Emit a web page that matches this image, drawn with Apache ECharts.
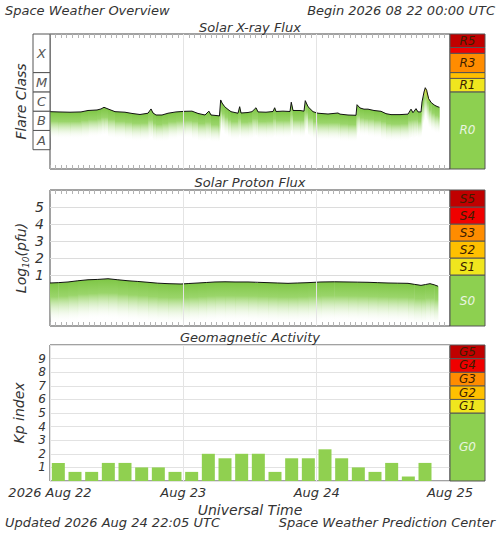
<!DOCTYPE html>
<html><head><meta charset="utf-8">
<script src="https://cdn.jsdelivr.net/npm/echarts@6/dist/echarts.min.js"></script>
<style>html,body{margin:0;padding:0;background:#fff}#c{width:500px;height:533px}</style>
</head><body><div id="c"></div><script>
const FONT = 'DejaVu Sans';
const TXT = '#333';

// ---- Solar X-ray flux (hours since 2026-08-22 00:00 UTC, W/m^2)
const xrayHours = [0,1.44,3.6,5.58,6.84,8.46,9.18,9.72,10.44,11.7,13.5,14.76,16.2,17.64,18.18,18.54,19.08,20.16,21.24,22.68,
  24.3,25.56,26.64,27.9,28.6,28.98,30.24,30.5,30.72,30.96,31.44,32.04,32.58,33.84,34.14,34.38,35.64,36.36,37.08,37.44,
  38.88,40.14,40.44,40.68,41.94,43.2,43.43,43.74,45,45.72,45.95,46.44,47.34,48.24,50.04,51.84,52.2,53.64,55.08,55.26,
  55.8,56.52,57.24,58.32,59.58,60.48,61.38,63,64.44,64.98,65.34,65.88,66.24,66.78,66.96,67.32,67.55,67.8,68.16,68.63,
  69.25,69.84,70.08];
const xrayFlux = [9.4e-7,9.1e-7,8.8e-7,9.1e-7,1.08e-6,1.15e-6,1.3e-6,1.58e-6,1.3e-6,9.4e-7,8.8e-7,7.6e-7,6.7e-7,7.8e-7,1.3e-6,8.0e-7,6.3e-7,6.3e-7,7.8e-7,9.1e-7,
  9.8e-7,1.0e-6,7.6e-7,6.3e-7,1.0e-6,6.3e-7,5.8e-7,5.6e-7,3.8e-6,2.65e-6,1.7e-6,1.22e-6,9.4e-7,7.8e-7,1.7e-6,8.0e-7,8.5e-7,9.4e-7,1.5e-6,9.1e-7,
  8.8e-7,9.6e-7,1.5e-6,9.6e-7,1.0e-6,9.6e-7,2.9e-6,1.08e-6,1.08e-6,1.0e-6,3.5e-6,1.7e-6,9.4e-7,7.8e-7,7.1e-7,8.0e-7,7.0e-7,6.3e-7,6.1e-7,2.16e-6,
  1.46e-6,1.27e-6,1.27e-6,1.08e-6,9.8e-7,7.4e-7,6.6e-7,6.6e-7,7.0e-7,1.27e-6,8.3e-7,1.35e-6,9.1e-7,9.1e-7,3.0e-6,9.8e-6,1.64e-5,1.2e-5,4.4e-6,2.75e-6,
  2.0e-6,1.66e-6,1.6e-6];

// ---- Solar proton flux (log10 pfu)
const protonHours = [0,1.5,3.24,5,6.84,8.6,10.44,12.2,14.04,15.8,17.64,19.4,21.24,23.58,25,26.64,28.2,29.7,31.5,33.3,
  35.64,37.4,39.24,41,42.84,44.6,46.44,48.78,51.2,53.64,55.4,57.24,59,60.84,62.6,64.44,65.6,66.78,67.6,68.4,69.2,69.84];
const protonLog = [0.53,0.55,0.59,0.66,0.72,0.74,0.78,0.72,0.66,0.62,0.57,0.52,0.49,0.47,0.5,0.53,0.56,0.59,0.6,0.59,
  0.59,0.57,0.55,0.53,0.51,0.53,0.55,0.59,0.6,0.59,0.58,0.57,0.55,0.53,0.52,0.51,0.45,0.39,0.44,0.49,0.42,0.34];

// ---- Kp index (3-hour bins, centre hours)
const kpHours = [1.5,4.5,7.5,10.5,13.5,16.5,19.5,22.5,25.5,28.5,31.5,34.5,37.5,40.5,43.5,46.5,49.5,52.5,55.5,58.5,61.5,64.5,67.5];
const kpValues = [1.33,0.67,0.67,1.33,1.33,1,1,0.67,0.67,2,1.67,2,2,0.67,1.67,1.67,2.33,1.67,1,0.67,1.33,0.33,1.33];

// ---- tick labels / scales
const dayLabels = ['2026 Aug 22','Aug 23','Aug 24','Aug 25'];
const dayLines = [24,48];
const flareClasses = ['A','B','C','M','X'];
const flareClassLo = [1e-8,1e-7,1e-6,1e-5,1e-4];
const flareClassHi = [1e-7,1e-6,1e-5,1e-4,1e-2];
const xrayGridLines = [1e-5,5e-5,1e-4,1e-3,2e-3];
const protonGridLines = [1,2,3,4,5];
const rNames = ['R0','R1','R2','R3','R4','R5'];
const rLo = [1e-9,1e-5,5e-5,1e-4,1e-3,2e-3];
const rHi = [1e-5,5e-5,1e-4,1e-3,2e-3,1e-2];
const rShow = [true,true,false,true,false,true];
const sNames = ['S0','S1','S2','S3','S4','S5'];
const sLo = [-2,1,2,3,4,5];
const sHi = [1,2,3,4,5,6];
const gNames = ['G0','G1','G2','G3','G4','G5'];
const gLo = [0,5,6,7,8,9];
const gHi = [5,6,7,8,9,10];
const allShow = [true,true,true,true,true,true];
const scaleColors = ['#8dd050','#f0e61e','#ffc000','#ff8c00','#f00000','#c00000'];

const chart = echarts.init(document.getElementById('c'), null, {renderer:'svg'});

const PL = 50, PW = 400, SW = 35;
const P1 = {top:34, h:135}, P2 = {top:190, h:136}, P3 = {top:345, h:136};

function grid(left, width, p, show) {
  return {left, width, top:p.top, height:p.h, show, borderColor:'#444', borderWidth:1,
    backgroundColor:'#fff', containLabel:false, outerBoundsMode:'none'};
}
// hourly tick axes (top & bottom) for the flux panels
function tickAxis(gi, pos) {
  return {
    type:'value', gridIndex:gi, position:pos, min:0, max:72, interval:1,
    axisLine:{show:false, onZero:false},
    axisTick:{show:true, inside:true, length:4, lineStyle:{color:'#b4b4b4'}},
    axisLabel:{show:false}, splitLine:{show:false}
  };
}
function hiddenX(gi) { return {type:'value', gridIndex:gi, min:0, max:1, show:false}; }
function logY(gi, extra) {
  return Object.assign({type:'log', logBase:10, gridIndex:gi, min:1e-9, max:1e-2,
    axisLine:{show:false}, axisTick:{show:false}, axisLabel:{show:false}, splitLine:{show:false}}, extra||{});
}
function linY(gi, min, max, extra) {
  return Object.assign({type:'value', gridIndex:gi, min, max, interval:1,
    axisLine:{show:false, onZero:false}, axisTick:{show:false}, axisLabel:{show:false}, splitLine:{show:false}}, extra||{});
}
const nameStyle = {fontFamily:FONT, fontStyle:'italic', fontSize:14, color:TXT};

function bandSeries(xi, yi, lo, hi, names, show) {
  return {
    type:'custom', xAxisIndex:xi, yAxisIndex:yi, silent:true, z:4,
    data: lo.map((l,i)=>[0, l, hi[i], i]),
    encode:{x:0, y:[1,2]},
    renderItem:(params, api)=>{
      const i = api.value(3);
      const p0 = api.coord([0, api.value(1)]);
      const p1 = api.coord([1, api.value(2)]);
      const x = p0[0], y = p1[1], w = p1[0]-p0[0], h = p0[1]-p1[1];
      const ch = [{type:'rect', shape:{x, y, width:w, height:h},
        style:{fill:scaleColors[i], stroke:'#555', lineWidth:1}}];
      if (show[i]) ch.push({type:'text', style:{text:names[i], x:x+w/2, y:y+h/2, align:'center', verticalAlign:'middle',
        fill: i===0 ? '#eaf5e0' : '#3c1e00', fontFamily:FONT, fontStyle:'italic', fontSize:12}});
      return {type:'group', children:ch};
    }
  };
}
function fillSeries(xi, yi, hours, vals, depth, solid, hot) {
  return {
    type:'custom', xAxisIndex:xi, yAxisIndex:yi, silent:true, z:1,
    data: hours.map((h,i)=>[h, vals[i]]),
    encode:{x:0, y:1},
    renderItem:(params, api)=>{
      const i = params.dataIndex;
      if (i >= hours.length-1) return null;
      const a = api.coord([hours[i], vals[i]]);
      const b = api.coord([hours[i+1], vals[i+1]]);
      const top = Math.min(a[1], b[1]);
      const bot = Math.max(a[1], b[1]) + depth;
      const c0 = (hot && Math.max(vals[i], vals[i+1]) >= hot) ? '#e6e02a' : '#7ec645';
      return {type:'polygon', shape:{points:[[a[0],a[1]],[b[0]+0.4,b[1]],[b[0]+0.4,b[1]+depth],[a[0],a[1]+depth]]},
        style:{fill:new echarts.graphic.LinearGradient(0, top, 0, bot,
          [{offset:0,color:c0},{offset:solid,color:'#9ad56a'},{offset:1,color:'rgba(255,255,255,0)'}], true)}};
    }
  };
}
function classSeries(xi, yi) {
  return {
    type:'custom', xAxisIndex:xi, yAxisIndex:yi, silent:true, z:4,
    data: flareClassLo.map((l,i)=>[0, l, flareClassHi[i], i]),
    encode:{x:0, y:[1,2]},
    renderItem:(params, api)=>{
      const i = api.value(3);
      const p0 = api.coord([0, api.value(1)]);
      const p1 = api.coord([1, api.value(2)]);
      const x = p0[0], y = p1[1], w = p1[0]-p0[0], h = p0[1]-p1[1];
      return {type:'group', children:[
        {type:'rect', shape:{x, y, width:w, height:h}, style:{fill:'#fff', stroke:'#555', lineWidth:1}},
        {type:'text', style:{text:flareClasses[i], x:x+w/2, y:y+h/2, align:'center', verticalAlign:'middle',
          fill:'#555', fontFamily:FONT, fontStyle:'italic', fontSize:13}}]};
    }
  };
}
function gridLines(hValues) {
  return {silent:true, symbol:'none', animation:false, label:{show:false},
    lineStyle:{color:'#dcdcdc', width:1, type:'solid'},
    data: hValues.map(v=>({yAxis:v})).concat(dayLines.map(v=>({xAxis:v, lineStyle:{color:'#e4e4e4'}})))};
}

function txt(text, x, y, align) {
  return {type:'text', x, y, silent:true, style:{text, align, verticalAlign:'middle', fill:TXT,
    fontFamily:FONT, fontStyle:'italic', fontSize:13}};
}

const option = {
  animation:false,
  backgroundColor:'#fff',
  grid:[
    grid(PL, PW, P1, true), grid(33, 17, P1, false), grid(PL+PW, SW, P1, false),
    grid(PL, PW, P2, true), grid(PL+PW, SW, P2, false),
    grid(PL, PW, P3, true), grid(PL+PW, SW, P3, false)
  ],
  xAxis:[
    tickAxis(0,'bottom'), tickAxis(0,'top'), hiddenX(1), hiddenX(2),
    tickAxis(3,'bottom'), tickAxis(3,'top'), hiddenX(4),
    {type:'value', gridIndex:5, position:'bottom', min:0, max:72, interval:24,
      axisLine:{show:false, onZero:false}, axisTick:{show:false},
      splitLine:{show:true, lineStyle:{color:'#e4e4e4'}},
      axisLabel:{show:true, margin:5, formatter:v=>dayLabels[Math.round(v/24)], showMinLabel:true, showMaxLabel:true,
        fontFamily:FONT, fontStyle:'italic', fontSize:13, color:TXT},
      name:'Universal Time', nameLocation:'middle', nameGap:22, nameMoveOverlap:false, nameTextStyle:nameStyle},
    hiddenX(6)
  ],
  yAxis:[
    logY(0,{name:'Flare Class', nameLocation:'middle', nameGap:22, nameRotate:90, nameMoveOverlap:false, nameTextStyle:nameStyle}),
    logY(1), logY(2),
    linY(3,-2,6,{
      axisLabel:{show:true, margin:6, formatter:v=>(v>=1&&v<=5)?String(v):'', fontFamily:FONT, fontStyle:'italic', fontSize:14, color:TXT},
      name:'{a|Log}{s|10}{a|(pfu)}', nameLocation:'middle', nameGap:20, nameRotate:90, nameMoveOverlap:false,
      nameTextStyle:Object.assign({}, nameStyle, {rich:{
        a:{fontFamily:FONT, fontStyle:'italic', fontSize:14, color:TXT, lineHeight:18},
        s:{fontFamily:FONT, fontStyle:'italic', fontSize:9, color:TXT, lineHeight:18, verticalAlign:'bottom'}}})
    }),
    linY(4,-2,6),
    linY(5,0,10,{
      axisLabel:{show:true, margin:4, formatter:v=>(v>=1&&v<=9)?String(v):'', fontFamily:FONT, fontStyle:'italic', fontSize:12, lineHeight:12, color:TXT},
      splitLine:{show:true, lineStyle:{color:'#e2e2e2'}},
      name:'Kp index', nameLocation:'middle', nameGap:24, nameRotate:90, nameMoveOverlap:false, nameTextStyle:nameStyle
    }),
    linY(6,0,10)
  ],
  series:[
    fillSeries(0,0,xrayHours,xrayFlux,27,0.35,1e-5),
    {type:'line', xAxisIndex:0, yAxisIndex:0, silent:true, z:3, symbol:'none', showSymbol:false,
      data:xrayHours.map((h,i)=>[h,xrayFlux[i]]), lineStyle:{color:'#111', width:1}, markLine:gridLines(xrayGridLines)},
    classSeries(2,1),
    bandSeries(3,2,rLo,rHi,rNames,rShow),
    fillSeries(4,3,protonHours,protonLog,40,0.35,null),
    {type:'line', xAxisIndex:4, yAxisIndex:3, silent:true, z:3, symbol:'none', showSymbol:false,
      data:protonHours.map((h,i)=>[h,protonLog[i]]), lineStyle:{color:'#111', width:1}, markLine:gridLines(protonGridLines)},
    bandSeries(6,4,sLo,sHi,sNames,allShow),
    {type:'bar', xAxisIndex:7, yAxisIndex:5, silent:true, barWidth:13,
      data:kpHours.map((h,i)=>[h,kpValues[i]]), itemStyle:{color:'#90d050'}},
    bandSeries(8,6,gLo,gHi,gNames,allShow)
  ],
  graphic:[
    txt('Space Weather Overview', 5, 10, 'left'),
    txt('Begin 2026 08 22 00:00 UTC', 495, 10, 'right'),
    txt('Solar X-ray Flux', 250, 27, 'center'),
    txt('Solar Proton Flux', 250, 182, 'center'),
    txt('Geomagnetic Activity', 250, 337, 'center'),
    txt('Updated 2026 Aug 24 22:05 UTC', 5, 522, 'left'),
    txt('Space Weather Prediction Center', 495, 522, 'right')
  ]
};
chart.setOption(option);
</script></body></html>
